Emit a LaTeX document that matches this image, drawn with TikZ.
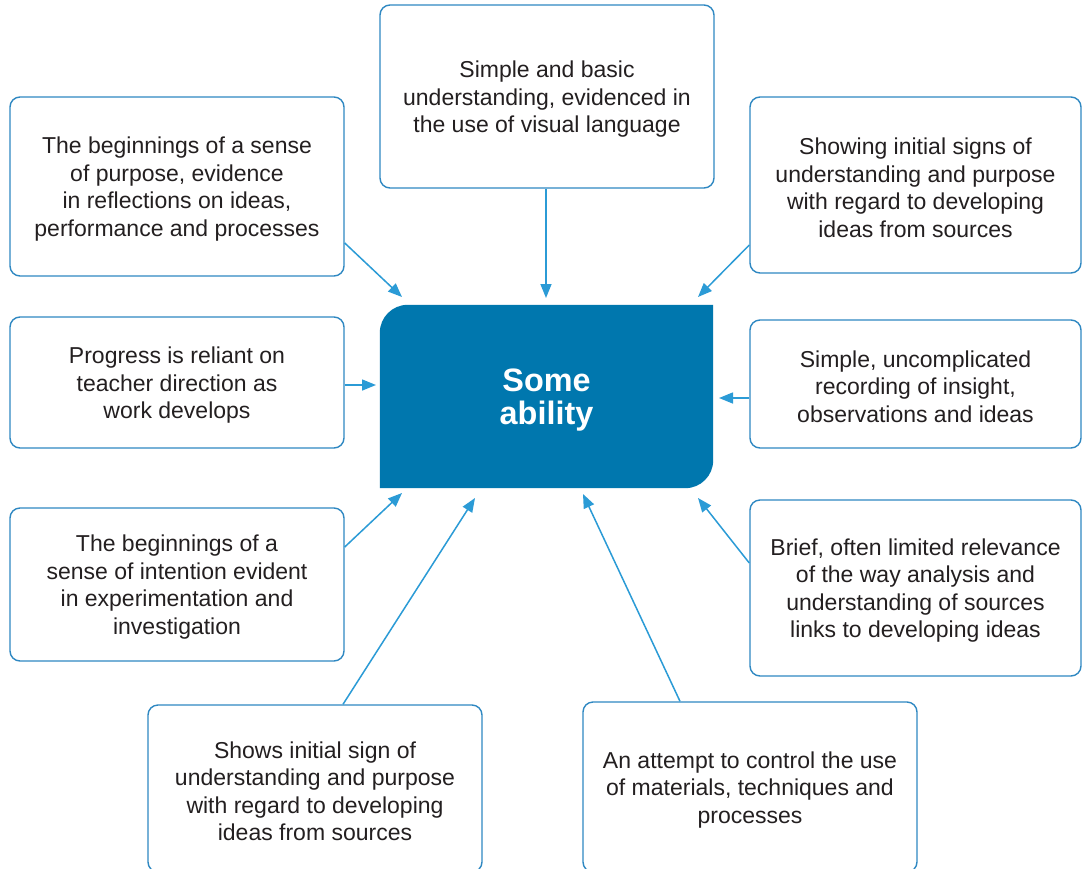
\documentclass[tikz,border=0pt]{standalone}
\usepackage{fontspec}
\setmainfont{Liberation Sans}
\usetikzlibrary{arrows.meta,calc}
\definecolor{cfill}{HTML}{0077AE}
\definecolor{bline}{HTML}{2F88C2}
\definecolor{aline}{HTML}{2B9BD6}
\definecolor{txt}{HTML}{231F20}
\newcommand{\topstrut}{\rule{0pt}{22pt}}
\tikzset{
  infobox/.style={draw=bline, line width=1.4pt, rounded corners=10pt, fill=white,
    align=center, inner sep=0pt, text=txt,
    font=\fontsize{23}{27.5}\selectfont},
  conn/.style={draw=aline, line width=1.5pt, -{Triangle[length=14pt,width=11pt]}},
}
\begin{document}
\begin{tikzpicture}[x=1pt,y=-1pt]
\useasboundingbox (0,0) rectangle (1082,868);
\clip (0,0) rectangle (1082,868);
\fill[white] (0,0) rectangle (1082,868);
% central box
\node[minimum width=333pt, minimum height=183pt, inner sep=0pt] (c) at (546.5,396.5) {};
\fill[cfill] (c.south west) -- ($(c.north west)+(0,28)$)
  .. controls ($(c.north west)+(0,12.5)$) and ($(c.north west)+(12.5,0)$) .. ($(c.north west)+(28,0)$)
  -- (c.north east) -- ($(c.south east)+(0,-28)$)
  .. controls ($(c.south east)+(0,-12.5)$) and ($(c.south east)+(-12.5,0)$) .. ($(c.south east)+(-28,0)$) -- cycle;
\node[text=white, align=center, font=\bfseries\fontsize{32.4}{33}\selectfont] (ct) at (546.5,400) {Some\\ability};
% outer boxes
\node[infobox, minimum width=334pt, minimum height=183pt] (t) at (547,96.5)
  {\topstrut Simple and basic\\understanding, evidenced in\\the use of visual language};
\node[infobox, minimum width=334pt, minimum height=179pt] (tl) at (177,186.5)
  {\topstrut The beginnings of a sense\\of purpose, evidence\\in reflections on ideas,\\performance and processes};
\node[infobox, minimum width=331pt, minimum height=176pt] (tr) at (915.5,185)
  {\topstrut Showing initial signs of\\understanding and purpose\\with regard to developing\\ideas from sources};
\node[infobox, minimum width=334pt, minimum height=131pt] (ml) at (177,382.5)
  {\topstrut Progress is reliant on\\teacher direction as\\work develops};
\node[infobox, minimum width=331pt, minimum height=128pt] (mr) at (915.5,384)
  {\topstrut Simple, uncomplicated\\recording of insight,\\observations and ideas};
\node[infobox, minimum width=334pt, minimum height=153pt] (ll) at (177,584.5)
  {\topstrut The beginnings of a\\sense of intention evident\\in experimentation and\\investigation};
\node[infobox, minimum width=331pt, minimum height=176pt] (lr) at (915.5,588)
  {\topstrut Brief, often limited relevance\\of the way analysis and\\understanding of sources\\links to developing ideas};
\node[infobox, minimum width=334pt, minimum height=167pt] (bl) at (315,788.5)
  {\topstrut Shows initial sign of\\understanding and purpose\\with regard to developing\\ideas from sources};
\node[infobox, minimum width=334pt, minimum height=170pt] (br) at (750,787)
  {\topstrut An attempt to control the use\\of materials, techniques and\\processes};
% arrow tips
\coordinate (pt) at (546,298);
\coordinate (ptl) at (402,297);
\coordinate (ptr) at (698,297);
\coordinate (pml) at (376,385);
\coordinate (pmr) at (719,398);
\coordinate (pll) at (402,493);
\coordinate (plr) at (698,498);
\coordinate (pbl) at (475,498);
\coordinate (pbr) at (583,494);
% connectors
\draw[conn] (t.south -| pt) -- (pt);
\draw[conn] ([yshift=-56.5pt]tl.east) -- (ptl);
\draw[conn] ([yshift=-60pt]tr.west) -- (ptr);
\draw[conn] ([yshift=-2.5pt]ml.east) -- (pml);
\draw[conn] ([yshift=-14pt]mr.west) -- (pmr);
\draw[conn] ([yshift=37.5pt]ll.east) -- (pll);
\draw[conn] ([yshift=25pt]lr.west) -- (plr);
\draw[conn] ([xshift=28pt]bl.north) -- (pbl);
\draw[conn] ([xshift=-70pt]br.north) -- (pbr);
\end{tikzpicture}
\end{document}
